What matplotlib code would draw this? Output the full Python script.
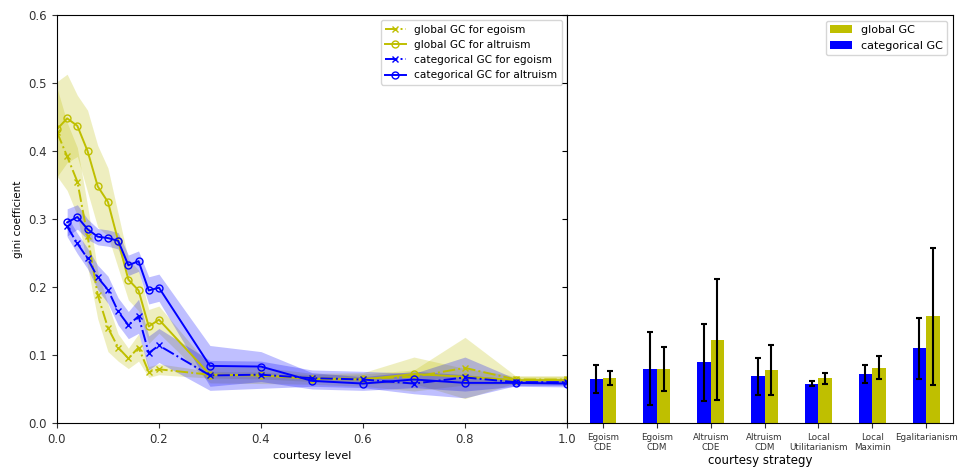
import matplotlib.pyplot as plt
import numpy as np

# ------- courtesy level sweep ---------------------------
levels = [0.0, 0.02, 0.04, 0.06, 0.08, 0.1, 0.12, 0.14, 0.16, 0.18, 0.2,
          0.3, 0.4, 0.5, 0.6, 0.7, 0.8, 0.9, 1.0]

glob_ego = [0.428, 0.392, 0.355, 0.275, 0.188, 0.140, 0.111, 0.095, 0.111, 0.075, 0.079,
            0.071, 0.070, 0.066, 0.065, 0.068, 0.081, 0.064, 0.064]
glob_ego_sd = [0.065, 0.05, 0.05, 0.045, 0.035, 0.035, 0.02, 0.015, 0.02, 0.008, 0.008,
               0.005, 0.005, 0.005, 0.007, 0.01, 0.045, 0.005, 0.005]

glob_alt = [0.432, 0.448, 0.437, 0.400, 0.348, 0.325, 0.268, 0.211, 0.195, 0.142, 0.152,
            0.071, 0.070, 0.065, 0.064, 0.072, 0.068, 0.063, 0.063]
glob_alt_sd = [0.07, 0.065, 0.045, 0.06, 0.06, 0.05, 0.04, 0.03, 0.03, 0.025, 0.02,
               0.012, 0.012, 0.008, 0.01, 0.025, 0.012, 0.006, 0.006]

# categorical GC starts at 0.02
cat_levels = levels[1:]
cat_ego = [0.289, 0.264, 0.242, 0.214, 0.196, 0.164, 0.144, 0.157, 0.103, 0.114,
           0.070, 0.071, 0.066, 0.064, 0.058, 0.067, 0.060, 0.060]
cat_ego_sd = [0.015, 0.015, 0.015, 0.018, 0.02, 0.02, 0.02, 0.025, 0.025, 0.025,
              0.022, 0.02, 0.012, 0.012, 0.015, 0.03, 0.005, 0.005]

cat_alt = [0.295, 0.303, 0.285, 0.274, 0.272, 0.268, 0.232, 0.238, 0.195, 0.199,
           0.084, 0.083, 0.062, 0.058, 0.064, 0.059, 0.059, 0.058]
cat_alt_sd = [0.02, 0.018, 0.015, 0.012, 0.012, 0.012, 0.015, 0.015, 0.02, 0.02,
              0.03, 0.022, 0.012, 0.01, 0.012, 0.012, 0.005, 0.005]

# ------- courtesy strategies ----------------------------
strategies = ['Egoism\nCDE', 'Egoism\nCDM', 'Altruism\nCDE', 'Altruism\nCDM',
              'Local\nUtilitarianism', 'Local\nMaximin', 'Egalitarianism']
glob_gc = [0.066, 0.080, 0.1225, 0.078, 0.0657, 0.0814, 0.157]
glob_gc_err = [0.010, 0.0325, 0.089, 0.037, 0.008, 0.017, 0.101]
cat_gc = [0.0647, 0.0799, 0.0893, 0.0686, 0.0578, 0.0725, 0.1098]
cat_gc_err = [0.021, 0.054, 0.057, 0.027, 0.004, 0.013, 0.0445]

fig = plt.figure(figsize=(9.67, 4.70), dpi=100)
ax = fig.add_axes([0.0589, 0.1, 0.5274, 0.868])
ax2 = fig.add_axes([0.5863, 0.1, 0.3992, 0.868], sharey=ax)

def band(a, x, m, s, c):
    m = np.array(m)
    s = np.array(s)
    a.fill_between(x, m - s, m + s, color=c, alpha=0.25, linewidth=0)

band(ax, levels, glob_ego, glob_ego_sd, 'y')
band(ax, levels, glob_alt, glob_alt_sd, 'y')
band(ax, cat_levels, cat_ego, cat_ego_sd, 'b')
band(ax, cat_levels, cat_alt, cat_alt_sd, 'b')

ax.plot(levels, glob_ego, 'y-.', marker='x', ms=5, lw=1.4, label='global GC for egoism')
ax.plot(levels, glob_alt, 'y-', marker='o', mfc='none', ms=5, lw=1.4, label='global GC for altruism')
ax.plot(cat_levels, cat_ego, 'b-.', marker='x', ms=5, lw=1.4, label='categorical GC for egoism')
ax.plot(cat_levels, cat_alt, 'b-', marker='o', mfc='none', ms=5, lw=1.4, label='categorical GC for altruism')

ax.set_xlim(0, 1.0)
ax.set_ylim(0, 0.6)
ax.set_xticks(np.arange(0, 1.01, 0.2))
ax.set_yticks(np.arange(0, 0.61, 0.1))
ax.tick_params(labelsize=8.5, colors='#333333')
ax.set_xlabel('courtesy level', fontsize=8)
ax.set_ylabel('gini coefficient', fontsize=7.5)
ax.legend(loc='upper right', fontsize=7.6, handlelength=2)

# ------- bar chart --------------------------------------
ind = np.arange(len(strategies))
width = 0.25
ax2.bar(ind + width / 2, glob_gc, width, color='y', yerr=glob_gc_err,
        error_kw=dict(ecolor='k', elinewidth=1.5, capsize=2, capthick=1.5), label='global GC')
ax2.bar(ind - width / 2, cat_gc, width, color='b', yerr=cat_gc_err,
        error_kw=dict(ecolor='k', elinewidth=1.5, capsize=2, capthick=1.5), label='categorical GC')
ax2.set_xlim(-0.67, 6.5)
ax2.set_xticks(ind)
ax2.set_xticklabels(strategies, fontsize=6.3)
ax2.tick_params(axis='y', labelleft=False)
ax2.tick_params(axis='x', colors='#333333')
ax2.set_xlabel('courtesy strategy', fontsize=8.5, labelpad=1)
ax2.legend(loc='upper right', fontsize=8)

plt.savefig('out.png', dpi=100)
